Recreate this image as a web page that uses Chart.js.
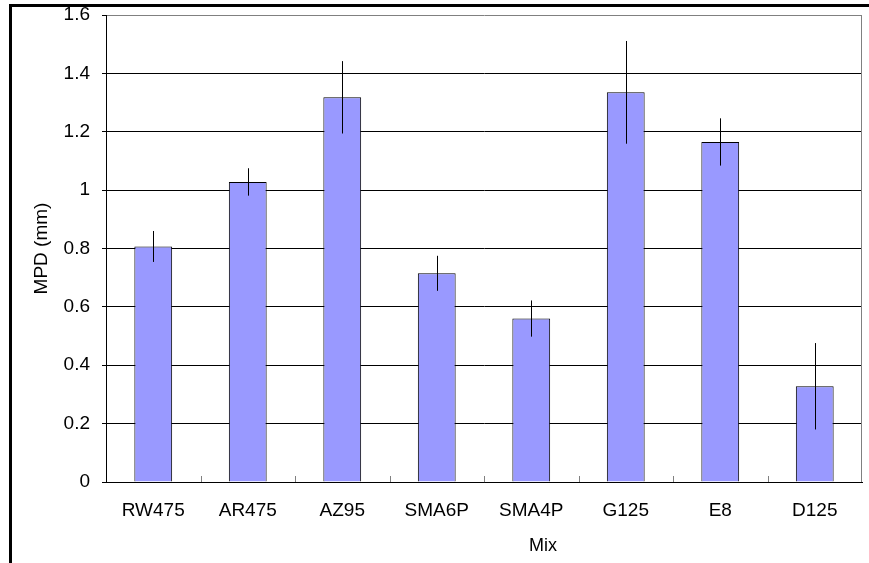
<!DOCTYPE html>
<html>
<head>
<meta charset="utf-8">
<script src="https://cdn.jsdelivr.net/npm/chart.js@4"></script>
<style>
  body { margin: 0; background: #fff; }
  #frame {
    position: absolute;
    left: 9px;
    top: 4px;
    width: 857px;
    height: 556px;
    border-top: 3px solid #000;
    border-left: 3px solid #000;
  }
  canvas { display: block; }
</style>
</head>
<body>
<div id="frame"><canvas id="mpdChart" width="857" height="556"></canvas></div>
<script>
// mixes on the x axis
const mixes = ['RW475', 'AR475', 'AZ95', 'SMA6P', 'SMA4P', 'G125', 'E8', 'D125'];
// mean profile depth (mm)
const mpd = [0.807, 1.028, 1.318, 0.715, 0.560, 1.335, 1.165, 0.328];
// +/- error for each bar
const mpdErr = [0.053, 0.047, 0.124, 0.060, 0.062, 0.176, 0.081, 0.148];
// y axis ticks
const yTicks = [0, 0.2, 0.4, 0.6, 0.8, 1, 1.2, 1.4, 1.6];

const FONT = 'Liberation Sans, Arial, sans-serif';

// error bars, plain vertical lines without caps
const errorBars = {
    id: 'errorBars',
    afterDatasetsDraw(chart) {
        const ctx = chart.ctx;
        const meta = chart.getDatasetMeta(0);
        const y = chart.scales.y;
        ctx.save();
        ctx.strokeStyle = '#000';
        ctx.lineWidth = 1;
        meta.data.forEach((bar, i) => {
            const x = Math.round(bar.x) + 0.5;
            ctx.beginPath();
            ctx.moveTo(x, y.getPixelForValue(mpd[i] + mpdErr[i]));
            ctx.lineTo(x, y.getPixelForValue(mpd[i] - mpdErr[i]));
            ctx.stroke();
        });
        ctx.restore();
    }
};

// plot frame on the right, inward category ticks and the x title
const plotExtras = {
    id: 'plotExtras',
    afterDraw(chart) {
        const ctx = chart.ctx;
        const area = chart.chartArea;
        const xs = chart.scales.x;
        ctx.save();
        ctx.strokeStyle = '#808080';
        ctx.lineWidth = 1;
        ctx.beginPath();
        ctx.moveTo(area.right - 0.5, area.top);
        ctx.lineTo(area.right - 0.5, area.bottom);
        ctx.stroke();

        const half = (xs.getPixelForValue(1) - xs.getPixelForValue(0)) / 2;
        for (let i = 1; i < mixes.length; i++) {
            const x = Math.round(xs.getPixelForValue(i) - half) + 0.5;
            ctx.beginPath();
            ctx.moveTo(x, area.bottom);
            ctx.lineTo(x, area.bottom - 6);
            ctx.stroke();
        }

        ctx.fillStyle = '#000';
        ctx.font = '18px ' + FONT;
        ctx.textAlign = 'center';
        ctx.textBaseline = 'middle';
        ctx.fillText('Mix', (area.left + area.right) / 2 + 59, area.bottom + 64);
        ctx.restore();
    }
};

const ctx = document.getElementById('mpdChart').getContext('2d');
new Chart(ctx, {
    type: 'bar',
    data: {
        labels: mixes,
        datasets: [{
            data: mpd,
            backgroundColor: '#9999FF',
            borderColor: '#000',
            borderWidth: 1,
            categoryPercentage: 1,
            barPercentage: 0.4
        }]
    },
    options: {
        responsive: false,
        animation: false,
        devicePixelRatio: 1,
        layout: {
            padding: { top: 8, right: 7, bottom: 41, left: 0 }
        },
        plugins: {
            legend: { display: false },
            tooltip: { enabled: false }
        },
        scales: {
            x: {
                grid: { display: false, drawTicks: false },
                border: { display: true, color: '#000', width: 1 },
                ticks: {
                    color: '#000',
                    padding: 17,
                    font: { family: FONT, size: 19 }
                },
                afterFit(scale) {
                    scale.height = 40;
                    scale.paddingLeft = 0;
                    scale.paddingRight = 0;
                }
            },
            y: {
                min: 0,
                max: 1.6,
                afterBuildTicks(scale) {
                    scale.ticks = yTicks.map(v => ({ value: v }));
                },
                grid: {
                    color: c => (c.tick && c.tick.value === 1.6) ? '#808080' : '#000',
                    lineWidth: 1,
                    drawTicks: true,
                    tickLength: 4,
                    tickColor: '#000'
                },
                border: { display: true, color: '#000', width: 1 },
                ticks: {
                    color: '#000',
                    padding: 12,
                    font: { family: FONT, size: 19 },
                    callback: v => String(Number(v.toFixed(1)))
                },
                title: {
                    display: true,
                    text: 'MPD (mm)',
                    color: '#000',
                    font: { family: FONT, size: 19 },
                    padding: { top: 18, bottom: 0 }
                },
                afterFit(scale) {
                    scale.width = 94;
                    scale.paddingTop = 0;
                    scale.paddingBottom = 0;
                }
            }
        }
    },
    plugins: [errorBars, plotExtras]
});
</script>
</body>
</html>
